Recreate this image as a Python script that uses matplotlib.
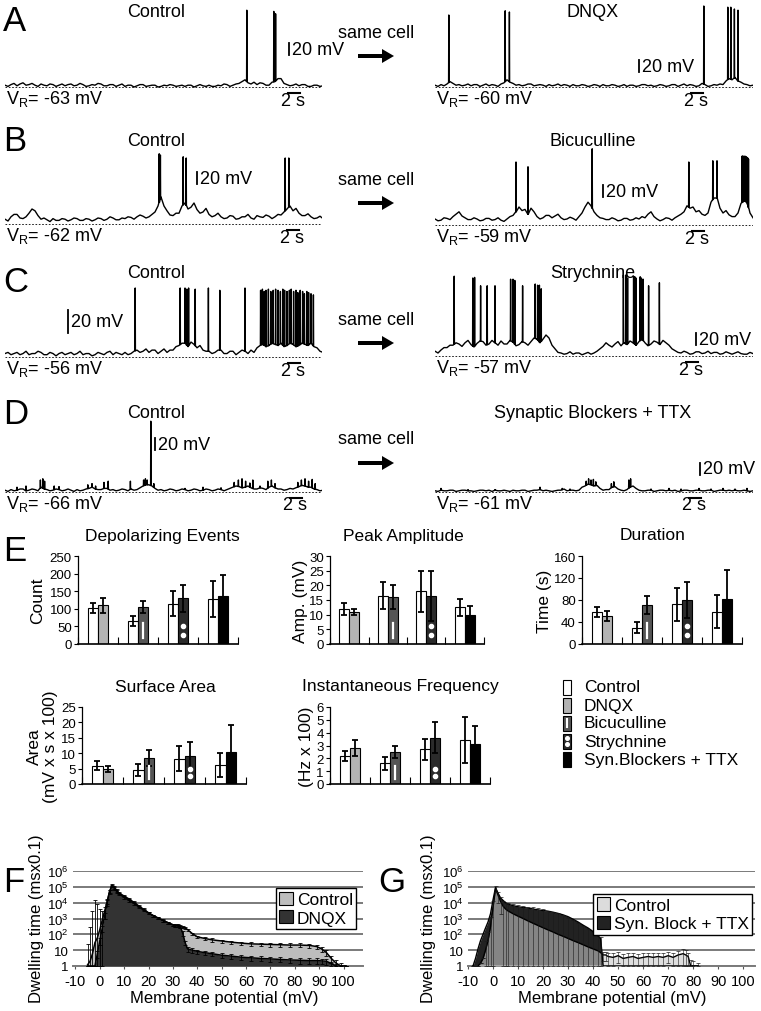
import matplotlib
matplotlib.use('Agg')
import matplotlib.pyplot as plt
import matplotlib.transforms as mtransforms
from matplotlib.patches import Rectangle, FancyArrow, Patch
from matplotlib.ticker import NullLocator
import numpy as np

plt.rcParams['font.family'] = ['Liberation Sans', 'DejaVu Sans']
plt.rcParams['mathtext.fontset'] = 'custom'
plt.rcParams['mathtext.rm'] = 'Liberation Sans'
plt.rcParams['mathtext.it'] = 'Liberation Sans:italic'
plt.rcParams['axes.unicode_minus'] = False

# ---------- A-D traces: baseline sampled every 0.5 s (mV above rest), spikes (time s, peak mV) ----------
a_ctrl_base = [3, 1, 4, 6, 2, 5, 7, 3, 4, 6, 3, 1, 5, 3, 2, 5, 4, 1, 3, 5,
               2, 4, 5, 2, 3, 6, 4, 1, 2, 4, 3, 6, 5, 2, 2, 4, 4, 1, 3, 5,
               1, 3, 3, 0, 2, 4, 4, 1, 2, 3, 3, 0, 1, 3, 2, 4, 3, 1, 2, 3,
               1, 3, 3, 0, 2, 4, 2, 1, 3, 1, 1, 3, 2, 5, 4, 1, 3, 5, 6, 9,
               12, 7, 5, 8, 4, 7, 6, 3, 3, 8, 9, 14, 14, 6, 4, 2, 3, 5, 2, 4,
               4, 1, 1, 3, 3, 1, 2]
a_ctrl_t = [40.3, 44.8, 45.1]
a_ctrl_v = [128, 126, 122]

a_dnqx_base = [3, 1, 4, 2, 5, 9, 6, 3, 4, 2, 3, 5, 2, 4, 4, 1, 3, 5, 2, 4,
               3, 1, 5, 7, 12, 8, 6, 3, 4, 2, 3, 5, 5, 2, 3, 4, 3, 1, 4, 2,
               3, 5, 2, 4, 3, 1, 4, 2, 2, 4, 3, 1, 2, 4, 3, 1, 4, 2, 2, 4,
               3, 1, 2, 4, 1, 3, 3, 1, 2, 4, 4, 2, 3, 1, 2, 4, 3, 1, 2, 4,
               4, 1, 3, 5, 2, 4, 3, 1, 2, 6, 4, 1, 2, 4, 3, 5, 4, 10, 14, 12,
               16, 10, 8, 5, 4, 2, 3]
a_dnqx_t = [2.3, 11.7, 12.4, 44.8, 48.8, 49.3, 49.9, 50.5]
a_dnqx_v = [120, 127, 125, 135, 133, 133, 130, 128]

b_ctrl_base = [8, 5, 12, 16, 16, 10, 9, 12, 18, 25, 22, 14, 8, 10, 7, 4, 9, 6, 6, 9,
               8, 5, 7, 10, 9, 6, 6, 9, 8, 5, 7, 10, 9, 6, 8, 12, 10, 7, 7, 10,
               9, 12, 11, 8, 12, 15, 13, 10, 12, 16, 20, 30, 45, 30, 22, 15, 14, 18, 18, 30,
               35, 25, 28, 35, 24, 18, 20, 26, 16, 12, 14, 18, 12, 9, 10, 14, 13, 8, 9, 12,
               12, 16, 10, 8, 14, 12, 11, 15, 13, 9, 12, 16, 15, 20, 25, 30, 22, 26, 18, 14,
               14, 17, 12, 9, 10, 13, 9]
b_ctrl_t = [25.7, 25.9, 29.7, 30.2, 46.7, 47.3]
b_ctrl_v = [117, 115, 112, 110, 110, 110]

b_bic_base = [10, 7, 8, 12, 11, 9, 14, 18, 22, 15, 12, 9, 9, 12, 10, 7, 8, 11, 11, 8,
              9, 12, 8, 6, 10, 14, 16, 22, 30, 24, 26, 18, 28, 22, 14, 10, 12, 16, 16, 12,
              15, 18, 12, 9, 10, 13, 11, 8, 14, 20, 30, 38, 32, 22, 16, 12, 11, 9, 9, 12,
              10, 7, 8, 11, 11, 8, 9, 12, 10, 14, 12, 18, 22, 14, 10, 7, 9, 12, 11, 8,
              12, 15, 18, 22, 32, 28, 30, 22, 24, 18, 16, 20, 38, 45, 45, 28, 20, 24, 17, 14,
              14, 20, 36, 40, 38, 20, 12]
b_bic_t = [13.5, 15.5, 26.2, 42.3, 46.3, 47.0, 51.2, 51.35, 51.5, 51.65, 51.8, 51.95, 52.1, 52.25]
b_bic_v = [105, 97, 127, 105, 107, 107, 115, 115, 114, 115, 114, 113, 112, 110]

c_ctrl_base = [3, 4, 2, 3, 4, 2, 3, 5, 2, 3, 3, 5, 4, 2, 2, 4, 3, 1, 3, 4,
               2, 3, 4, 2, 3, 5, 2, 3, 3, 1, 2, 4, 3, 2, 4, 5, 2, 4, 3, 2,
               4, 2, 3, 5, 6, 4, 5, 7, 4, 6, 6, 3, 5, 7, 4, 6, 6, 9, 10, 12,
               12, 9, 13, 11, 8, 10, 6, 5, 5, 3, 4, 6, 6, 3, 3, 5, 5, 2, 4, 6,
               5, 3, 6, 4, 8, 10, 11, 9, 10, 12, 11, 10, 12, 9, 10, 12, 11, 9, 10, 12,
               11, 10, 12, 9, 8, 5, 4]
c_ctrl_t = [21.7, 29.2, 30.0, 30.3, 30.6, 31.7, 33.9, 35.8, 40.0,
            42.6, 42.9, 43.2, 43.5, 43.9, 44.3, 44.7, 45.1, 45.5, 45.9, 46.3, 46.6, 47.0,
            47.4, 47.7, 48.1, 48.5, 48.8, 49.2, 49.6, 49.9, 50.3, 50.6, 51.0, 51.4]
c_ctrl_v = [60, 60, 60, 59, 60, 59, 60, 58, 60,
            58, 59, 57, 58, 59, 57, 58, 59, 58, 57, 59, 58, 57,
            58, 59, 57, 58, 56, 58, 57, 55, 57, 56, 55, 54]

c_str_base = [8, 5, 10, 14, 14, 18, 18, 22, 20, 16, 22, 26, 19, 15, 21, 25, 24, 18, 20, 26,
              22, 18, 25, 20, 20, 26, 23, 17, 19, 24, 22, 18, 24, 30, 28, 22, 28, 35, 30, 18,
              12, 6, 5, 3, 4, 7, 3, 5, 5, 2, 4, 6, 3, 5, 8, 12, 16, 22, 18, 15,
              20, 24, 17, 22, 19, 25, 22, 18, 24, 28, 22, 17, 20, 25, 23, 19, 26, 22, 18, 12,
              9, 6, 5, 8, 6, 3, 4, 7, 7, 4, 5, 8, 4, 6, 6, 3, 4, 7, 5, 3,
              5, 7, 4, 3, 3, 6, 4]
c_str_t = [3.2, 6.3, 6.6, 7.6, 8.7, 10.0, 12.6, 13.0, 13.3, 14.6, 16.7, 17.1, 17.4, 17.7,
           31.4, 31.8, 32.1, 33.1, 33.3, 33.5, 34.2, 34.4, 34.7, 35.6, 37.4]
c_str_v = [133, 130, 131, 117, 117, 117, 128, 128, 126, 117, 120, 118, 118, 112,
           135, 135, 130, 133, 132, 130, 132, 130, 128, 117, 122]

d_ctrl_base = [3, 1, 4, 2, 3, 5, 5, 2, 3, 5, 4, 2, 8, 5, 4, 2, 3, 5, 4, 2,
               3, 5, 3, 1, 4, 2, 3, 5, 6, 8, 5, 4, 4, 6, 6, 3, 4, 2, 3, 5,
               4, 2, 5, 3, 4, 7, 10, 12, 12, 10, 6, 3, 4, 2, 3, 5, 4, 2, 3, 5,
               4, 2, 3, 5, 4, 2, 3, 5, 4, 2, 3, 5, 4, 2, 4, 6, 8, 10, 9, 7,
               8, 10, 7, 5, 5, 7, 6, 4, 8, 10, 7, 5, 5, 3, 4, 6, 5, 7, 9, 11,
               10, 8, 8, 5, 4, 2, 3]
d_ctrl_t = [2.0, 3.5, 5.9, 6.3, 6.6, 8.2, 9.0, 13.8, 14.5, 15.1, 16.5, 17.2, 20.9, 23.1, 23.4, 23.7, 24.3, 24.8,
            30.0, 33.0, 36.0, 38.2, 38.9, 39.5, 40.1, 40.8, 41.3, 42.5, 43.8, 44.4, 45.0,
            48.8, 49.4, 50.0, 50.6, 51.2, 51.7]
d_ctrl_v = [8, 10, 20, 22, 18, 10, 9, 12, 14, 10, 16, 18, 18, 20, 22, 20, 118, 14,
            6, 8, 7, 16, 20, 22, 18, 15, 20, 10, 18, 20, 14,
            16, 20, 22, 18, 21, 14]

d_syn_base = [2, 1, 3, 2, 2, 3, 3, 1, 2, 3, 3, 2, 2, 1, 2, 3, 3, 2, 3, 1,
              3, 2, 2, 3, 2, 1, 3, 2, 2, 3, 3, 1, 2, 3, 3, 4, 2, 3, 2, 1,
              2, 3, 3, 5, 2, 3, 3, 2, 3, 8, 10, 13, 12, 10, 11, 6, 3, 4, 4, 8,
              9, 5, 3, 2, 4, 8, 10, 6, 3, 2, 2, 3, 3, 1, 2, 3, 3, 2, 3, 2,
              3, 1, 2, 3, 3, 2, 2, 3, 3, 2, 2, 3, 3, 1, 2, 3, 3, 2, 3, 2,
              3, 2, 2, 3, 2, 1, 2]
d_syn_t = [1.0, 5.5, 10.0, 17.5, 21.2, 22.5, 25.2, 25.6, 26.0, 26.4, 26.8, 29.4, 29.8, 32.3, 32.6,
           36.0, 39.0, 41.0, 44.0, 46.0, 48.0, 50.0, 52.0]
d_syn_v = [6, 4, 4, 8, 6, 5, 18, 22, 20, 21, 17, 14, 17, 20, 22, 5, 6, 5, 6, 5, 6, 5, 6]

# ---------- E: bar charts (4 pairs: control vs drug) ----------
drugs = ['DNQX', 'Bicuculline', 'Strychnine', 'Syn.Blockers + TTX']
drug_colors = ['#b3b3b3', '#555555', '#2b2b2b', '#000000']

dep_ctrl, dep_ctrl_err = [102, 65, 115, 128], [15, 15, 35, 50]
dep_drug, dep_drug_err = [110, 105, 130, 135], [22, 18, 38, 60]
amp_ctrl, amp_ctrl_err = [12, 16.5, 18, 12.5], [2, 4.5, 7, 3]
amp_drug, amp_drug_err = [11, 16, 16.5, 10], [1, 4, 8.5, 3]
dur_ctrl, dur_ctrl_err = [58, 30, 72, 59], [9, 10, 30, 30]
dur_drug, dur_drug_err = [51, 71, 80, 81], [9, 16, 32, 54]
area_ctrl, area_ctrl_err = [6, 4.5, 8.2, 6.2], [1.5, 2, 4, 4]
area_drug, area_drug_err = [4.8, 8.5, 9, 10.5], [1, 2.5, 4.5, 8.5]
freq_ctrl, freq_ctrl_err = [2.2, 1.6, 2.7, 3.4], [0.4, 0.5, 0.8, 1.8]
freq_drug, freq_drug_err = [2.8, 2.5, 3.6, 3.1], [0.6, 0.5, 1.2, 1.4]

# ---------- F: dwelling time histogram, control vs DNQX ----------
f_mv = [-5, -4, -3, -2, -1, 0, 1, 2, 3, 4, 5, 6, 7, 8, 10, 12, 14, 16, 18, 20, 22, 24, 26, 28, 30, 31, 32, 33, 34, 35,
        36, 38, 40, 43, 46, 50, 54, 58, 62, 66, 70, 74, 78, 82, 86, 89, 91, 93, 95, 97, 99, 101]
f_ctrl = [1.2, 2, 6, 30, 60, 200, 800, 3e3, 1.2e4, 5e4, 1.2e5, 9e4, 6e4, 4e4, 2.6e4, 1.7e4, 1.05e4, 6.2e3, 3.8e3, 2.3e3,
          1.5e3, 1.05e3, 750, 540, 400, 350, 330, 300, 280, 260, 200, 110, 70, 55, 45, 38, 32, 28, 25, 24,
          23, 22, 21, 21, 20, 17, 12, 7, 3, 1.5, 1.0, 1.0]
f_ctrl_err = [25, 300, 3e3, 1.5e4, 8e3, 4e3, 2e3, 2e3, 4e3, 1e4, 2e4, 1.5e4, 1e4, 6e3, 4e3, 2.5e3, 1.5e3, 900, 550, 350,
              220, 160, 110, 80, 60, 55, 50, 45, 40, 40, 30, 20, 14, 12, 10, 9, 8, 7, 6, 6,
              6, 6, 6, 6, 6, 5, 4, 3, 1.5, 0.8, 0.5, 0]
f_dnqx = [1, 1, 1, 1, 6, 40, 250, 1500, 1e4, 5e4, 1.25e5, 8e4, 5e4, 3.5e4, 2.2e4, 1.4e4, 9e3, 5.5e3, 3.4e3, 2.2e3,
          1.5e3, 1.05e3, 750, 540, 400, 360, 380, 330, 120, 30, 12, 10, 8.4, 7, 6, 4.8, 4.2, 3.6, 3.3, 3.0,
          2.8, 2.6, 2.4, 2.3, 2.2, 2.2, 2.1, 2.0, 1.4, 1.0, 1.0, 1.0]
f_dnqx_err = [0, 0, 0, 0, 3, 20, 100, 600, 4e3, 1.5e4, 2e4, 1.5e4, 1e4, 6e3, 4e3, 2.5e3, 1.5e3, 900, 550, 350,
              250, 180, 130, 100, 80, 70, 80, 70, 40, 10, 4, 3, 2.5, 2, 2, 1.5, 1.4, 1.2, 1.1, 1,
              1, 0.9, 0.9, 0.9, 0.8, 0.8, 0.8, 0.8, 0.5, 0.3, 0, 0]

# ---------- G: dwelling time histogram, control vs synaptic blockers + TTX ----------
g_mv = [-8, -7, -6, -5, -4, -3, -2, -1, 0, 1, 2, 3, 4, 5, 6, 8, 10, 12, 14, 16, 18, 20, 22, 24, 26, 28, 30, 32, 34, 36,
        38, 40, 42, 43, 44, 45, 46, 48, 50, 52, 54, 56, 58, 60, 62, 64, 66, 68, 70, 72, 74, 76, 77, 78, 79, 80, 82]
g_ctrl = [1, 1, 1, 1.5, 3, 10, 40, 300, 5e3, 8e4, 3e4, 1.2e4, 6e3, 4e3, 3e3, 2e3, 1.4e3, 1e3, 700, 500, 360, 260, 190, 140,
          100, 75, 55, 40, 30, 22, 16, 12, 9, 7, 5, 5, 4, 3.5, 4.5, 3, 3.5, 4, 3, 3.5, 4, 3.5, 4, 3.5, 4.5, 3.5,
          5, 6, 5, 4, 1, 1, 1]
g_ctrl_err = [0, 0, 0, 0, 0, 30, 100, 1e3, 8e3, 3e4, 2e4, 1e4, 6e3, 6e3, 6e3, 6e3, 6e3, 5.5e3, 5e3, 4.5e3, 4e3, 3.5e3,
              3e3, 2.5e3, 2e3, 1.5e3, 1.1e3, 800, 500, 300, 200, 120, 80, 60, 3, 3, 3, 3, 3, 2.5, 3, 3, 2.5, 3,
              3, 3, 3, 3, 3, 3, 4, 6, 5, 3, 1.5, 1, 0.5]
g_syn = [1, 3, 12, 40, 100, 250, 600, 2e3, 1.5e4, 9e4, 4e4, 2e4, 1.4e4, 1e4, 8e3, 6.5e3, 5.5e3, 5e3, 4.5e3, 4e3, 3.5e3,
         3.2e3, 2.9e3, 2.5e3, 2.1e3, 1.7e3, 1.3e3, 900, 600, 380, 250, 150, 80, 55, 1, 1, 1, 1, 1, 1, 1, 1, 1, 1,
         1, 1, 1, 1, 1, 1, 1, 1, 1, 1, 1, 1, 1]

W, H = 761, 1012
fig = plt.figure(figsize=(W / 100, H / 100), dpi=100)


def box(x0, y0, x1, y1):
    return fig.add_axes([x0 / W, 1 - y1 / H, (x1 - x0) / W, (y1 - y0) / H])


ov = box(0, 0, W, H)
ov.set_xlim(0, W)
ov.set_ylim(H, 0)
ov.axis('off')

PX_PER_S = 6.0
DT = 0.5


def trace(x0, x1, y0, gain, base, spk_t, spk_v, vr, vbar, hbar_x):
    ax = box(x0, y0 - 95, x1, y0 + 20)
    ax.set_xlim(0, (x1 - x0) / PX_PER_S)
    ax.set_ylim(-20 / gain, 95 / gain)
    ax.axis('off')
    tb = np.arange(len(base)) * DT
    t = list(tb)
    v = list(base)
    for ts, vs in zip(spk_t, spk_v):
        b = np.interp(ts, tb, base)
        t += [ts - 0.035, ts, ts + 0.035]
        v += [b, vs, b]
    order = np.argsort(t, kind='stable')
    ax.plot(np.array(t)[order], np.array(v)[order], color='k', lw=1.0)
    ax.axhline(0, color='k', lw=0.6, ls=(0, (2, 2)))
    # scale bars
    tv = (vbar[0] - x0) / PX_PER_S
    vt = (y0 - vbar[1]) / gain
    ax.plot([tv, tv], [vt - 20, vt], color='k', lw=1.3, clip_on=False)
    th = (hbar_x - x0) / PX_PER_S
    ax.plot([th, th + 2], [-6 / gain, -6 / gain], color='k', lw=1.5)
    ov.text(vbar[0] + 3, vbar[1] + 10 * gain, '20 mV', fontsize=13, va='center', ha='left')
    ov.text(hbar_x + 5, y0 + 4.5, '2 s', fontsize=13, va='top', ha='center')
    ov.text(x0 + 1, y0 + 0.5, r'V$_\mathrm{R}$= ' + vr + ' mV', fontsize=13, va='top', ha='left')


trace(5, 322, 88, 0.6, a_ctrl_base, a_ctrl_t, a_ctrl_v, '-63', (289, 44), 288)
trace(435, 753, 88, 0.6, a_dnqx_base, a_dnqx_t, a_dnqx_v, '-60', (639, 61), 691)
trace(5, 322, 225, 0.6, b_ctrl_base, b_ctrl_t, b_ctrl_v, '-62', (197, 173), 287)
trace(435, 753, 226, 0.6, b_bic_base, b_bic_t, b_bic_v, '-59', (603, 186), 692)
trace(5, 322, 358, 1.15, c_ctrl_base, c_ctrl_t, c_ctrl_v, '-56', (68, 311), 288)
trace(435, 753, 357, 0.6, c_str_base, c_str_t, c_str_v, '-57', (696, 334), 686)
trace(5, 322, 493, 0.6, d_ctrl_base, d_ctrl_t, d_ctrl_v, '-66', (155, 439), 290)
trace(435, 753, 493, 0.6, d_syn_base, d_syn_t, d_syn_v, '-61', (700, 464), 689)

# row titles, letters, arrows
for y, lab in [(12, 'DNQX'), (141, 'Bicuculline'), (273, 'Strychnine'), (413, 'Synaptic Blockers + TTX')]:
    ov.text(593, y, lab, fontsize=13, ha='center', va='center')
for y in [12, 141, 273, 413]:
    ov.text(156, y, 'Control', fontsize=13, ha='center', va='center')
for y in [33, 180, 320, 440]:
    ov.text(376, y, 'same cell', fontsize=13, ha='center', va='center')
    ov.add_patch(FancyArrow(358, y + 24, 24, 0, width=4, head_width=14, head_length=12,
                            color='k', lw=0))
for x, y, lab in [(3, 5, 'A'), (3, 125, 'B'), (3, 266, 'C'), (3, 398, 'D'), (3, 535, 'E'), (3, 866, 'F'), (378, 866, 'G')]:
    ov.text(x, y, lab, fontsize=25, ha='left', va='top')

# ---------- E ----------
W_BAR = 0.26


def bars(px, title, title_x, ymax, step, ctrl, ctrl_err, drug, drug_err):
    ax = box(*px)
    g = np.arange(1, 5)
    ekw = dict(lw=1.3, capsize=2.2, capthick=1.3, ecolor='k')
    ax.bar(g - W_BAR / 2, ctrl, W_BAR, yerr=ctrl_err, color='white', edgecolor='k', lw=0.8, error_kw=ekw, zorder=2)
    ax.bar(g + W_BAR / 2, drug, W_BAR, yerr=drug_err, color=drug_colors, edgecolor='k', lw=0.8, error_kw=ekw, zorder=2)
    tr = mtransforms.blended_transform_factory(ax.transData, ax.transAxes)
    ax.plot([2 + W_BAR / 2] * 2, [0.07, 0.24], color='white', lw=1.6, transform=tr, zorder=3)
    ax.plot([3 + W_BAR / 2] * 2, [0.1, 0.2], 'o', color='white', ms=3, transform=tr, zorder=3)
    ax.set_xlim(0.5, 4.5)
    ax.set_ylim(0, ymax)
    ax.set_yticks(np.arange(0, ymax + step / 2, step))
    ax.set_xticks([0.5, 1.5, 2.5, 3.5, 4.5])
    ax.set_xticklabels([])
    ax.tick_params(axis='x', direction='in', length=5, width=0.8)
    ax.tick_params(axis='y', length=3, width=0.8, labelsize=9.5, pad=1.5)
    for s in ['top', 'right']:
        ax.spines[s].set_visible(False)
    ax.spines['left'].set_linewidth(0.9)
    ax.spines['bottom'].set_linewidth(1.2)
    ov.text(title_x, px[1] - 21, title, fontsize=12.5, ha='center', va='center')
    return ax


bars((78, 557, 238, 645), 'Depolarizing Events', 162, 250, 50, dep_ctrl, dep_ctrl_err, dep_drug, dep_drug_err)
bars((330, 557, 484, 645), 'Peak Amplitude', 403, 30, 5, amp_ctrl, amp_ctrl_err, amp_drug, amp_drug_err)
bars((582, 557, 742, 645), 'Duration', 653, 160, 40, dur_ctrl, dur_ctrl_err, dur_drug, dur_drug_err)
bars((82, 708, 246, 785), 'Surface Area', 165, 25, 5, area_ctrl, area_ctrl_err, area_drug, area_drug_err)
bars((330, 708, 490, 785), 'Instantaneous Frequency', 400, 6, 1, freq_ctrl, freq_ctrl_err, freq_drug, freq_drug_err)

for x, y, lab in [(38, 601, 'Count'), (300, 601, 'Amp. (mV)'), (544, 601, 'Time (s)'),
                  (34, 747, 'Area'), (51, 747, '(mV x s x 100)'), (306, 747, '(Hz x 100)')]:
    ov.text(x, y, lab, fontsize=12.5, rotation=90, ha='center', va='center')

# E legend
for i, lab in enumerate(['Control'] + drugs):
    yc = 688 + 18 * i
    col = 'white' if i == 0 else drug_colors[i - 1]
    ov.add_patch(Rectangle((563, yc - 7.5), 8, 15, fc=col, ec='k', lw=0.8))
    ov.text(584, yc, lab, fontsize=12.5, ha='left', va='center')
ov.plot([567, 567], [724 - 4, 724 + 4], color='white', lw=1.5)
ov.plot([567, 567], [742 - 3, 742 + 3], 'o', color='white', ms=2.6)


# ---------- F, G ----------
def errs(v, e):
    v = np.array(v, float)
    e = np.array(e, float)
    return [np.clip(np.minimum(e, v - 0.999), 0, None), e]


def dwell(px, xlim):
    ax = box(*px)
    ax.set_yscale('log')
    ax.set_ylim(1, 1e6)
    ax.set_xlim(*xlim)
    ax.set_yticks([1, 10, 1e2, 1e3, 1e4, 1e5, 1e6])
    ax.set_yticklabels(['1', '10', r'10$^\mathrm{2}$', r'10$^\mathrm{3}$', r'10$^\mathrm{4}$',
                        r'10$^\mathrm{5}$', r'10$^\mathrm{6}$'])
    ax.yaxis.set_minor_locator(NullLocator())
    ax.set_xticks(range(-10, 101, 10))
    for s in ['top', 'right', 'left']:
        ax.spines[s].set_visible(False)
    ax.spines['bottom'].set_color('#7a7a7a')
    ax.spines['bottom'].set_linewidth(1.4)
    ax.grid(axis='y', color='#7a7a7a', lw=1.4)
    ax.set_axisbelow(True)
    ax.tick_params(axis='y', length=0, labelsize=9.5, pad=3)
    ax.tick_params(axis='x', length=2.5, width=0.8, labelsize=10.5, pad=3.5, color='#555555')
    return ax


axf = dwell((73, 872, 363, 967), (-11, 108))
axf.fill_between(f_mv, 1, f_ctrl, color='#bdbdbd', lw=0, zorder=2)
axf.fill_between(f_mv, 1, f_dnqx, color='#333333', lw=0, zorder=3)
axf.plot(f_mv, f_ctrl, color='k', lw=1.1, zorder=4)
axf.plot(f_mv, f_dnqx, color='k', lw=1.1, zorder=4)
axf.errorbar(f_mv, f_ctrl, yerr=errs(f_ctrl, f_ctrl_err), fmt='none', ecolor='k', elinewidth=0.6,
             capsize=1.3, capthick=0.6, zorder=5)
axf.errorbar(f_mv, f_dnqx, yerr=errs(f_dnqx, f_dnqx_err), fmt='none', ecolor='k', elinewidth=0.6,
             capsize=1.3, capthick=0.6, zorder=5)
leg = axf.legend(handles=[Patch(fc='#bdbdbd', ec='k', lw=0.8), Patch(fc='#333333', ec='k', lw=0.8)],
                 labels=['Control', 'DNQX'], loc='upper left', bbox_to_anchor=(0.70, 0.82),
                 fancybox=False, edgecolor='k', framealpha=1, borderpad=0.2, borderaxespad=0,
                 handlelength=0.8, handleheight=0.8, handletextpad=0.2, labelspacing=0.15, fontsize=12.5)
leg.get_frame().set_linewidth(1.0)
leg.set_zorder(10)

axg = dwell((468, 872, 755, 967), (-7.4, 104.7))
axg.fill_between(g_mv, 1, g_syn, color='#222222', lw=0, zorder=2)
axg.fill_between(g_mv, 1, g_ctrl, color='#c8c8c8', alpha=0.6, lw=0, zorder=3)
axg.plot(g_mv, g_syn, color='k', lw=1.0, zorder=4)
axg.plot(g_mv, g_ctrl, color='k', lw=1.0, zorder=4)
axg.errorbar(g_mv, g_ctrl, yerr=errs(g_ctrl, g_ctrl_err), fmt='none', ecolor='#1a1a1a', elinewidth=0.4,
             capsize=1.3, capthick=0.5, zorder=5)
leg = axg.legend(handles=[Patch(fc='#dcdcdc', ec='k', lw=0.8), Patch(fc='#222222', ec='k', lw=0.8)],
                 labels=['Control', 'Syn. Block + TTX'], loc='upper left', bbox_to_anchor=(0.436, 0.76),
                 fancybox=False, edgecolor='k', framealpha=1, borderpad=0.2, borderaxespad=0,
                 handlelength=0.8, handleheight=0.8, handletextpad=0.2, labelspacing=0.15, fontsize=12.5)
leg.get_frame().set_linewidth(1.0)
leg.set_zorder(10)

ov.text(312, 936, 'n = 16', fontsize=13, ha='center', va='center')
ov.text(690, 941, 'n = 4', fontsize=13, ha='center', va='center')
for x in [37, 428]:
    ov.text(x, 919, 'Dwelling time (msx0.1)', fontsize=12, rotation=90, ha='center', va='center')
for x in [224, 612]:
    ov.text(x, 999, 'Membrane potential (mV)', fontsize=12, ha='center', va='center')

fig.savefig('out.png', dpi=100)
